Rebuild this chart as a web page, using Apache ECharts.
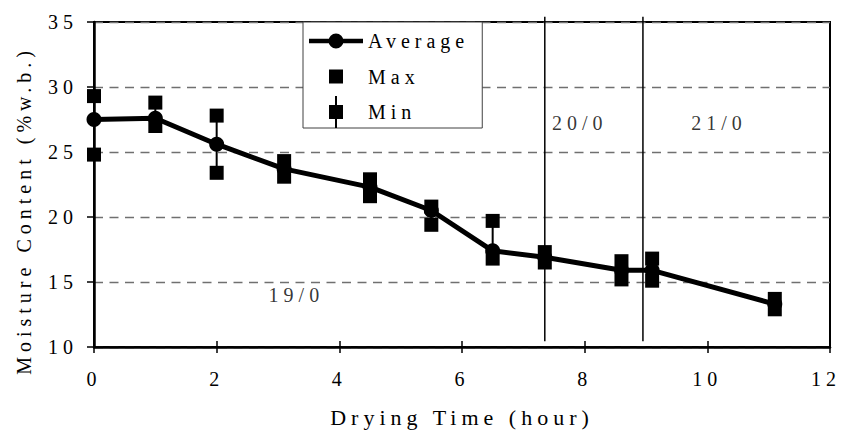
<!DOCTYPE html>
<html>
<head>
<meta charset="utf-8">
<title>Moisture Content vs Drying Time</title>
<script src="https://cdn.jsdelivr.net/npm/echarts@6/dist/echarts.min.js"></script>
<style>
  html, body { margin: 0; padding: 0; background: #fff; }
  #chart { width: 843px; height: 437px; }
  /* wide, typewriter-like spacing for every label */
  #chart text { letter-spacing: 5px; }
</style>
</head>
<body>
<div id="chart"></div>
<script>
// Drying time (hour) of each sample
const dryingTime = [0, 1, 2, 3.1, 4.5, 5.5, 6.5, 7.35, 8.6, 9.1, 11.1];
// Moisture content (%w.b.)
const averageMC = [27.5, 27.6, 25.6, 23.7, 22.3, 20.5, 17.4, 16.9, 15.9, 15.9, 13.3];
const maxMC     = [29.3, 28.8, 27.8, 24.3, 22.9, 20.8, 19.7, 17.3, 16.6, 16.8, 13.7];
const minMC     = [24.8, 27.0, 23.4, 23.1, 21.6, 19.4, 16.8, 16.5, 15.2, 15.1, 12.9];

// Day boundaries (hour) drawn as vertical lines, with their vertical extent
const dayBreaks = [7.35, 8.95];
const dayBreakSpan = [10.45, 35.4];

// Date annotations: [hour, moisture, text]
const annotations = [
  [3.3, 14.0, '19/0'],
  [7.92, 27.2, '20/0'],
  [10.19, 27.2, '21/0']
];

const xTicks = { min: 0, max: 12, interval: 2 };
const yTicks = { min: 10, max: 35, interval: 5 };

const FONT = 'Liberation Serif';
const black = '#000';

const zip = (a, b) => a.map((v, i) => [v, b[i]]);

const chart = echarts.init(document.getElementById('chart'), null, { renderer: 'svg' });

const breakSeries = dayBreaks.map(x => ({
  type: 'line',
  name: 'break',
  data: dayBreakSpan.map(y => [x, y]),
  symbol: 'none',
  clip: false,
  lineStyle: { color: black, width: 1.5 },
  silent: true,
  z: 1
}));

chart.setOption({
  animation: false,
  textStyle: { fontFamily: FONT, color: black },
  grid: {
    left: 94, right: 13, top: 22, bottom: 90,
    show: true, borderColor: black, borderWidth: 2, backgroundColor: 'transparent'
  },
  legend: {
    orient: 'vertical',
    left: 303, top: 22,
    itemWidth: 54, itemHeight: 32, itemGap: 3.5,
    padding: [3, 48, 0, 6],
    borderColor: '#404040', borderWidth: 1, borderRadius: 0,
    backgroundColor: '#fff',
    selectedMode: false,
    itemStyle: { color: black, borderWidth: 0, opacity: 1 },
    textStyle: { fontFamily: FONT, fontSize: 20, color: black },
    data: [
      { name: 'Average', icon: 'path://M0,0M54,32M0,13.8H20V18.2H0ZM34,13.8H54V18.2H34ZM19.5,16A7.5,7.5,0,1,1,34.5,16A7.5,7.5,0,1,1,19.5,16Z' },
      { name: 'Max', icon: 'path://M0,0M54,32M20,9H34V23H20Z' },
      { name: 'Min', icon: 'path://M0,0M54,32M26,0H28V9H34V23H28V32H26V23H20V9H26Z' }
    ]
  },
  xAxis: [
    {
      type: 'value', ...xTicks,
      name: 'Drying Time (hour)', nameLocation: 'middle', nameGap: 59,
      nameTextStyle: { fontFamily: FONT, fontSize: 22, color: black },
      axisLine: { show: true, onZero: false, lineStyle: { color: black, width: 2.5 } },
      axisTick: { show: true, length: 6, lineStyle: { color: black, width: 1.5 } },
      axisLabel: {
        margin: 22, fontFamily: FONT, fontSize: 20, color: black,
        // keep the last label inside the right edge
        formatter: v => (v === xTicks.max ? '{last|' + v + '}' : String(v)),
        rich: { last: { fontFamily: FONT, fontSize: 20, color: black, padding: [0, 8, 0, 0] } }
      },
      splitLine: { show: false }
    },
    {
      // inner half of the crossing tick marks
      type: 'value', ...xTicks, position: 'bottom',
      axisLine: { show: false },
      axisTick: { show: true, inside: true, length: 6, lineStyle: { color: black, width: 1.5 } },
      axisLabel: { show: false },
      splitLine: { show: false }
    }
  ],
  yAxis: {
    type: 'value', ...yTicks,
    name: 'Moisture Content (%w.b.)', nameLocation: 'middle', nameGap: 60,
    nameTextStyle: { fontFamily: FONT, fontSize: 20, color: black, padding: [0, 52, 0, 0] },
    axisLine: { show: true, onZero: false, lineStyle: { color: black, width: 2.5 } },
    axisTick: { show: true, length: 7, lineStyle: { color: black, width: 1.5 } },
    axisLabel: { margin: 16, fontFamily: FONT, fontSize: 20, color: black },
    splitLine: { show: true, lineStyle: { color: '#707070', width: 1.4, type: [9, 6.5] } }
  },
  series: [
    ...breakSeries,
    {
      type: 'custom',
      name: 'range',
      silent: true,
      z: 2,
      renderItem: (params, api) => {
        const x = api.value(0);
        const p1 = api.coord([x, api.value(1)]);
        const p2 = api.coord([x, api.value(2)]);
        return {
          type: 'line',
          shape: { x1: p1[0], y1: p1[1], x2: p2[0], y2: p2[1] },
          style: { stroke: black, lineWidth: 2 }
        };
      },
      data: dryingTime.map((t, i) => [t, minMC[i], maxMC[i]])
    },
    {
      type: 'line',
      name: 'Average',
      data: zip(dryingTime, averageMC),
      symbol: 'circle', symbolSize: 15,
      lineStyle: { color: black, width: 5 },
      itemStyle: { color: black, opacity: 1 },
      z: 3
    },
    {
      type: 'scatter',
      name: 'Max',
      data: zip(dryingTime, maxMC),
      symbol: 'rect', symbolSize: 14,
      itemStyle: { color: black, opacity: 1 },
      z: 4
    },
    {
      type: 'scatter',
      name: 'Min',
      data: zip(dryingTime, minMC),
      symbol: 'rect', symbolSize: 14,
      itemStyle: { color: black, opacity: 1 },
      z: 4
    },
    {
      type: 'scatter',
      name: 'dates',
      data: annotations.map(a => ({ value: [a[0], a[1]], label: { formatter: a[2] } })),
      symbolSize: 1,
      itemStyle: { color: 'rgba(0,0,0,0)' },
      silent: true,
      label: {
        show: true, position: 'inside',
        fontFamily: FONT, fontSize: 20, color: black
      },
      z: 5
    }
  ]
});
</script>
</body>
</html>
